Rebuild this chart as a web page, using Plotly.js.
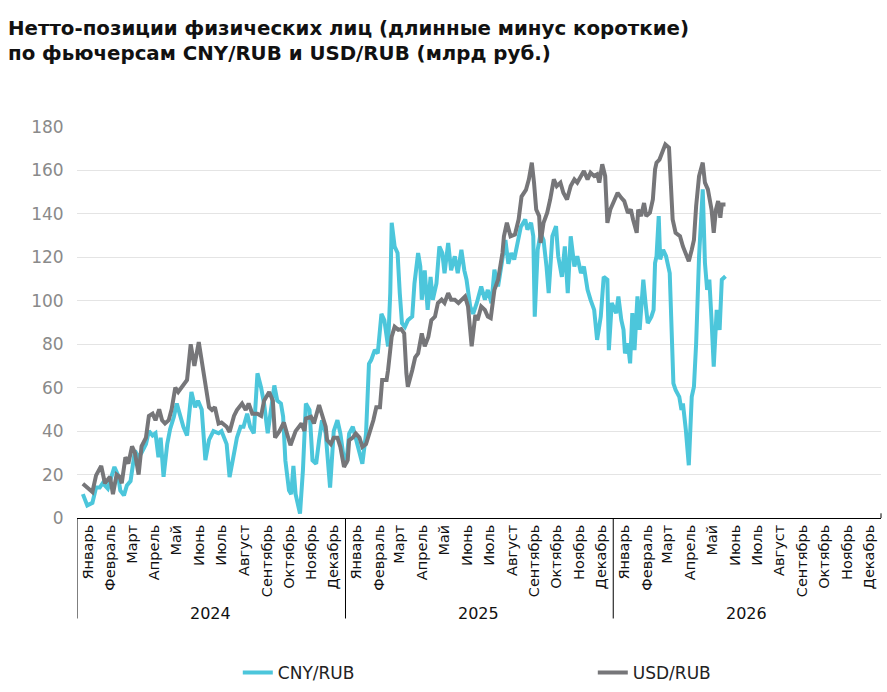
<!DOCTYPE html>
<html>
<head>
<meta charset="utf-8">
<script src="https://cdn.plot.ly/plotly-3.0.1.min.js"></script>
<style>html,body{margin:0;padding:0;background:#fff;}#chart{width:887px;height:692px;}</style>
</head>
<body>
<div id="chart"></div>
<script>
const monthNames = ['Январь','Февраль','Март','Апрель','Май','Июнь','Июль','Август','Сентябрь','Октябрь','Ноябрь','Декабрь'];
const years = ['2024','2025','2026'];
const seriesNames = ['CNY/RUB','USD/RUB'];

const cnyDates = ['2024-01-09','2024-01-15','2024-01-22','2024-01-27','2024-02-01','2024-02-05','2024-02-12','2024-02-17','2024-02-21','2024-02-26','2024-02-29','2024-03-05','2024-03-09','2024-03-14','2024-03-20','2024-03-25','2024-03-29','2024-04-04','2024-04-08','2024-04-13','2024-04-17','2024-04-21','2024-04-24','2024-04-28','2024-05-03','2024-05-07','2024-05-12','2024-05-16','2024-05-21','2024-05-25','2024-05-30','2024-06-05','2024-06-10','2024-06-14','2024-06-19','2024-06-24','2024-06-29','2024-07-05','2024-07-12','2024-07-16','2024-07-23','2024-07-27','2024-08-02','2024-08-06','2024-08-11','2024-08-15','2024-08-20','2024-08-24','2024-08-29','2024-09-03','2024-09-08','2024-09-12','2024-09-17','2024-09-21','2024-09-26','2024-09-30','2024-10-05','2024-10-08','2024-10-11','2024-10-16','2024-10-19','2024-10-22','2024-10-25','2024-10-31','2024-11-04','2024-11-08','2024-11-13','2024-11-17','2024-11-22','2024-11-26','2024-11-30','2024-12-05','2024-12-11','2024-12-16','2024-12-21','2024-12-25','2024-12-30','2025-01-02','2025-01-06','2025-01-11','2025-01-15','2025-01-20','2025-01-24','2025-01-29','2025-02-02','2025-02-05','2025-02-10','2025-02-14','2025-02-19','2025-02-23','2025-02-28','2025-03-03','2025-03-05','2025-03-09','2025-03-13','2025-03-16','2025-03-19','2025-03-23','2025-03-27','2025-04-02','2025-04-05','2025-04-10','2025-04-13','2025-04-15','2025-04-19','2025-04-23','2025-04-27','2025-04-30','2025-05-05','2025-05-09','2025-05-13','2025-05-16','2025-05-21','2025-05-25','2025-05-30','2025-06-03','2025-06-08','2025-06-12','2025-06-15','2025-06-20','2025-06-24','2025-06-29','2025-07-01','2025-07-05','2025-07-10','2025-07-14','2025-07-19','2025-07-23','2025-07-28','2025-08-03','2025-08-07','2025-08-11','2025-08-15','2025-08-19','2025-08-24','2025-08-28','2025-09-03','2025-09-06','2025-09-11','2025-09-14','2025-09-16','2025-09-20','2025-09-24','2025-09-28','2025-10-02','2025-10-05','2025-10-10','2025-10-15','2025-10-18','2025-10-23','2025-10-27','2025-10-31','2025-11-04','2025-11-09','2025-11-13','2025-11-18','2025-11-22','2025-11-27','2025-12-01','2025-12-06','2025-12-10','2025-12-15','2025-12-19','2025-12-24','2025-12-26','2025-12-30','2026-01-05','2026-01-08','2026-01-12','2026-01-15','2026-01-17','2026-01-21','2026-01-24','2026-01-27','2026-01-30','2026-02-03','2026-02-06','2026-02-11','2026-02-14','2026-02-17','2026-02-22','2026-02-25','2026-02-27','2026-03-01','2026-03-04','2026-03-06','2026-03-10','2026-03-14','2026-03-19','2026-03-21','2026-03-24','2026-03-27','2026-04-01','2026-04-04','2026-04-06','2026-04-10','2026-04-14','2026-04-18','2026-04-21','2026-04-24','2026-04-28','2026-05-03','2026-05-06','2026-05-09','2026-05-12','2026-05-15','2026-05-18','2026-05-22','2026-05-26','2026-05-29','2026-06-03'];
const cnyValues = [11,5.8,7,14,14,16,13.5,19,23.5,19.6,12.7,10.4,15,17,31,28,30,34,40,38,39,28,37,19,34,41,46.5,52.7,46.5,42,38,58,51,54,50,26.6,36,40,39,40,34,18.8,29.6,37,42,42,48,42,39,66.6,60,52.7,39,49.7,61,54,52.7,46.6,26.6,12.7,11,24,11,2,22,52.7,49.7,26.6,25,35.8,45,39,14,40,45,39,26.6,25,38.9,42,37,29.6,25,38.9,71,72.7,77.4,75.8,94,91,79,103.5,135.9,125,122,103.5,89.7,88,91,92.7,108,122,115.8,100.5,114,95.8,111,100.5,108,125,122,112.7,126.6,114,120.5,112.7,123.5,114,109.7,97.4,94,99,102,106.6,100.5,105,98.9,114.3,106.6,119,128,117,122,119,128,134,137.4,132.8,135.9,129.7,92.7,123.5,131,128,115.8,103.5,129.7,134.3,120.5,111,125,103.5,129.7,115.8,120.5,112.7,115.8,105,100.5,95.8,82,92.7,111,109.7,77.3,99,94.3,102,91.2,86.6,75.8,80.4,71.2,94.3,77.3,102,86.6,109.7,99,89.7,92.7,95.8,117.4,120.5,139,119,123.5,120.5,112.7,86.6,62,59,55.8,49.7,52.7,40.4,24.3,55.8,60.4,80.4,120.5,151.3,117.4,105,109.7,91.2,69.7,95.8,86.6,109.7,111.3];

const usdDates = ['2024-01-09','2024-01-22','2024-01-27','2024-02-03','2024-02-08','2024-02-15','2024-02-19','2024-02-24','2024-02-28','2024-03-02','2024-03-07','2024-03-11','2024-03-16','2024-03-20','2024-03-25','2024-03-29','2024-04-04','2024-04-08','2024-04-13','2024-04-17','2024-04-22','2024-04-26','2024-04-30','2024-05-05','2024-05-09','2024-05-14','2024-05-18','2024-05-23','2024-05-30','2024-06-04','2024-06-09','2024-06-15','2024-06-20','2024-06-24','2024-06-29','2024-07-03','2024-07-07','2024-07-12','2024-07-16','2024-07-23','2024-07-27','2024-08-02','2024-08-06','2024-08-13','2024-08-18','2024-08-22','2024-08-27','2024-09-03','2024-09-08','2024-09-12','2024-09-19','2024-09-24','2024-09-27','2024-10-03','2024-10-09','2024-10-14','2024-10-18','2024-10-25','2024-11-02','2024-11-06','2024-11-08','2024-11-15','2024-11-19','2024-11-26','2024-11-30','2024-12-05','2024-12-07','2024-12-12','2024-12-16','2024-12-21','2024-12-25','2024-12-30','2025-01-04','2025-01-06','2025-01-11','2025-01-15','2025-01-20','2025-01-24','2025-01-29','2025-02-03','2025-02-08','2025-02-12','2025-02-17','2025-02-20','2025-02-26','2025-02-28','2025-03-05','2025-03-09','2025-03-14','2025-03-18','2025-03-22','2025-03-25','2025-03-27','2025-04-02','2025-04-06','2025-04-10','2025-04-15','2025-04-19','2025-04-24','2025-04-28','2025-05-03','2025-05-07','2025-05-12','2025-05-16','2025-05-21','2025-05-25','2025-05-30','2025-06-04','2025-06-08','2025-06-13','2025-06-17','2025-06-22','2025-06-27','2025-06-30','2025-07-05','2025-07-10','2025-07-14','2025-07-18','2025-07-23','2025-07-28','2025-08-03','2025-08-05','2025-08-09','2025-08-14','2025-08-20','2025-08-25','2025-08-29','2025-09-04','2025-09-08','2025-09-12','2025-09-15','2025-09-18','2025-09-22','2025-09-24','2025-09-28','2025-10-03','2025-10-07','2025-10-12','2025-10-16','2025-10-21','2025-10-25','2025-10-30','2025-11-04','2025-11-09','2025-11-13','2025-11-18','2025-11-22','2025-11-27','2025-12-01','2025-12-06','2025-12-10','2025-12-13','2025-12-17','2025-12-21','2025-12-24','2025-12-28','2026-01-03','2026-01-07','2026-01-12','2026-01-16','2026-01-21','2026-01-25','2026-01-28','2026-02-02','2026-02-04','2026-02-08','2026-02-12','2026-02-15','2026-02-20','2026-02-24','2026-02-27','2026-03-01','2026-03-05','2026-03-09','2026-03-13','2026-03-18','2026-03-21','2026-03-23','2026-03-27','2026-04-02','2026-04-06','2026-04-11','2026-04-14','2026-04-18','2026-04-21','2026-04-24','2026-04-28','2026-05-03','2026-05-06','2026-05-10','2026-05-15','2026-05-18','2026-05-21','2026-05-24','2026-05-27','2026-05-29','2026-06-03'];
const usdValues = [15.8,12,19.6,24,16,19,11,20,19,16,28,25,33,30,20,33,37,47,48,45,50,45,43.5,45,50,60,58,60,63.5,80,70,81,71,63.5,51,49.7,51,43.5,44,42,39.6,47,49.7,52.7,49.7,52.7,48,48,47,54,58,54,37,40,44,38,33.5,40,43.5,40,45.8,46.6,43.5,52,48,42,35.8,34,37,37,32.7,23.5,26.6,35.8,37,38.9,37,32.7,34,38.9,45,51,51,63.5,63.5,68,83.5,88,86.6,87,85,66.6,60.4,68,74,75.8,85,79,83.5,91,92.7,99,100.5,99,103.5,100.5,100.5,99,100.5,102,97.4,79,93.5,91,97.4,95.8,92.7,92,105,109.7,122,129.7,135.9,129.7,130.5,137.4,148,151,155.9,163.6,154.4,142,139,126.6,135.9,140.5,146.6,155.9,152.8,154.4,149.7,146.6,152.8,155.9,154.4,157.4,159.7,155.9,159,157.4,158.2,154.4,162.8,157.4,135.9,142,146.6,149.7,147.4,145.9,140.5,142,137.4,131.3,142,139,145,139,140.5,146.6,160.5,163.6,165,168.2,172,170.5,148,137.4,131.3,129.7,125,121.3,118.2,123.5,128,143.6,157.4,163.6,154.4,151.3,142,131.3,142,145.9,138.2,144.3,144.3];

const yTicks = [0,20,40,60,80,100,120,140,160,180];

const pad = n => String(n).padStart(2,'0');
const tickvals = [], ticktext = [];
years.forEach(y => monthNames.forEach((mn,i) => { tickvals.push(`${y}-${pad(i+1)}-16`); ticktext.push(mn); }));

const shapes = [];
years.forEach(y => {
  shapes.push({type:'line', xref:'x', yref:'paper', x0:`${y}-01-01`, x1:`${y}-01-01`, y0:0, y1:-0.257, line:{color:'#000', width:1}});
});
shapes.push({type:'line', xref:'paper', yref:'paper', x0:1, x1:1, y0:0, y1:0.012, line:{color:'#000', width:1}});

const annotations = years.map(y => ({
  x:`${y}-07-01`, xref:'x', y:-0.245, yref:'paper', text:y, showarrow:false,
  xanchor:'center', yanchor:'middle', font:{family:'DejaVu Sans, sans-serif', size:16, color:'#111'}
}));

const traces = [
  {x:cnyDates, y:cnyValues, name:seriesNames[0], type:'scatter', mode:'lines', line:{color:'#4cc6db', width:4}},
  {x:usdDates, y:usdValues, name:seriesNames[1], type:'scatter', mode:'lines', line:{color:'#767679', width:4}}
];

const layout = {
  width:887, height:692,
  margin:{l:77, r:6, t:127, b:174, autoexpand:false},
  paper_bgcolor:'#fff', plot_bgcolor:'#fff',
  font:{family:'DejaVu Sans, sans-serif'},
  title:{text:'<b>Нетто-позиции физических лиц (длинные минус короткие)<br>по фьючерсам CNY/RUB и USD/RUB (млрд руб.)</b>',
    x:0.009, xref:'container', xanchor:'left', y:0.95, yref:'container', yanchor:'middle',
    font:{family:'DejaVu Sans, sans-serif', size:19.8, color:'#111'}},
  xaxis:{type:'date', range:['2024-01-01','2027-01-01'], tickmode:'array', tickvals:tickvals, ticktext:ticktext,
    tickangle:-90, tickfont:{family:'DejaVu Sans, sans-serif', size:14.5, color:'#111'}, showgrid:false, automargin:false,
    showline:true, linecolor:'#000', linewidth:1, ticks:'', zeroline:false, fixedrange:true},
  yaxis:{range:[0,180], tickvals:yTicks, showgrid:true, gridcolor:'#e4e4e4', gridwidth:1, zeroline:false, automargin:false,
    ticks:'outside', ticklen:9, tickcolor:'rgba(0,0,0,0)',
    tickfont:{family:'DejaVu Sans, sans-serif', size:17, color:'#8a8a8a'}, showline:false, fixedrange:true},
  showlegend:true,
  legend:{orientation:'h', x:0.2, xanchor:'left', y:-0.396, yanchor:'middle', entrywidth:310, entrywidthmode:'pixels',
    font:{family:'DejaVu Sans, sans-serif', size:17, color:'#222'}, bgcolor:'rgba(0,0,0,0)'},
  shapes:shapes,
  annotations:annotations
};

Plotly.newPlot('chart', traces, layout, {displayModeBar:false, staticPlot:true});
</script>
</body>
</html>
